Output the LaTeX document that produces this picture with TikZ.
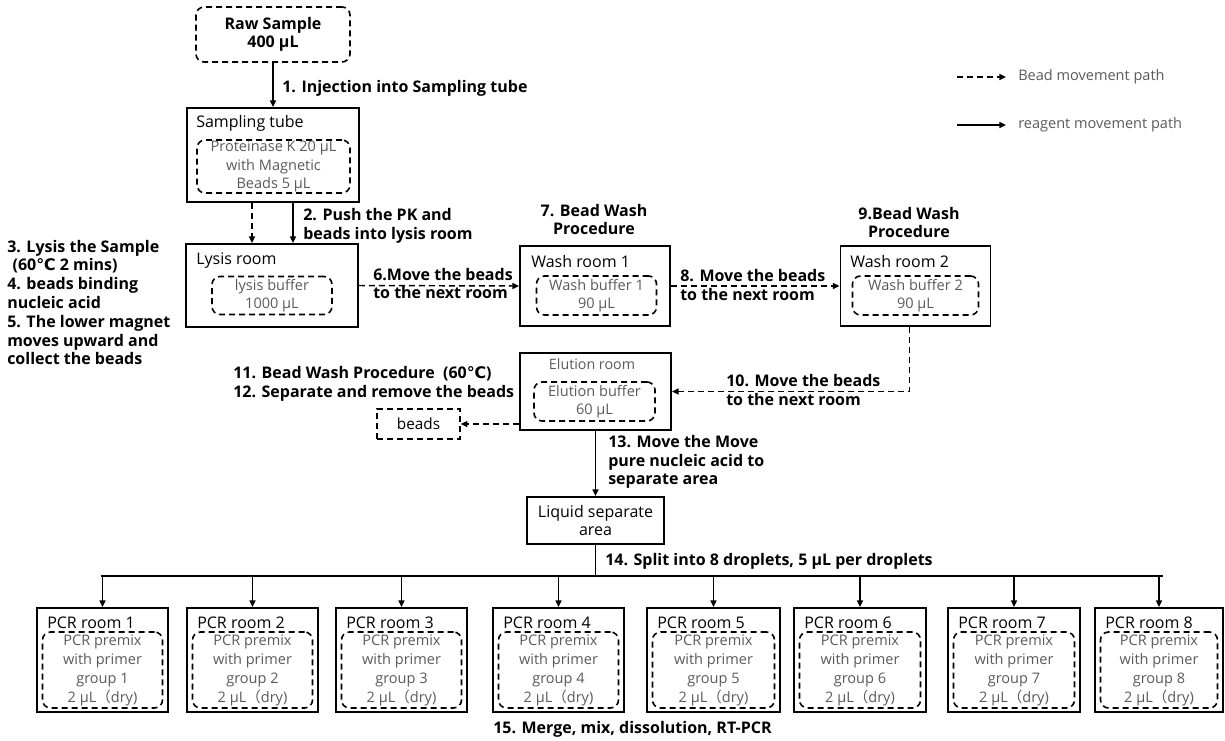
\documentclass[tikz,border=0pt]{standalone}
\usepackage{fontspec}
\setmainfont{Open Sans}
\newfontfamily\dejavu{DejaVu Sans}
\newfontfamily\cjk{Noto Sans CJK SC}
\usetikzlibrary{arrows.meta}
\definecolor{txtgray}{HTML}{5A5A5A}
\tikzset{
  sz/.style 2 args={minimum width=(#1)*0.75pt, minimum height=(#2)*0.75pt},
  room/.style={draw, line width=1.4pt, inner sep=0pt},
  inbox/.style={draw, line width=1.2pt, dash pattern=on 4.5pt off 3pt, rounded corners=6pt, inner sep=0pt, align=center, text=txtgray, font=\fontsize{10.9}{13.9}\selectfont},
  ttl/.style={anchor=west, inner sep=0pt, font=\fontsize{12}{14}\selectfont},
  lbl/.style={anchor=west, inner sep=0pt, align=left, font=\fontsize{12}{14.1}\selectfont\bfseries},
  clbl/.style={inner sep=0pt, align=center, font=\fontsize{12}{14.1}\selectfont\bfseries},
  legtxt/.style={anchor=west, inner sep=0pt, text=txtgray, font=\fontsize{10.9}{14}\selectfont},
  solidarr/.style={line width=1.1pt, -{Triangle[length=5pt,width=4.5pt]}},
  beadarr/.style={solidarr, dash pattern=on 4.5pt off 3pt},
}
\begin{document}
\begin{tikzpicture}[x=0.75pt,y=-0.75pt]
\useasboundingbox (0,0) rectangle (1225,740);

% Raw sample
\node[inbox, sz={154}{55}, text=black, font=\fontsize{12}{14}\selectfont\bfseries] (raw) at (273,34.5) {Raw Sample\\400 µL};

% Sampling tube
\node[room, sz={172}{94}] (samp) at (273,155) {};
\node[ttl] (sampt) at (196,123) {Sampling tube};
\node[inbox, sz={153}{53}] (sampin) at (273.5,166.5) {Proteinase K 20 µL\\with Magnetic\\Beads 5 µL};

% Lysis room
\node[room, sz={172}{83}] (lysis) at (272,285.5) {};
\node[ttl] (lysist) at (196,261) {Lysis room};
\node[inbox, sz={120}{38}] (lysisin) at (272,295.5) {lysis buffer\\1000 µL};

% Wash room 1
\node[room, sz={150}{80}] (w1) at (595,286) {};
\node[ttl] (w1t) at (531,261) {Wash room 1};
\node[inbox, sz={120}{39}] (w1in) at (596.5,295.5) {Wash buffer 1\\90 µL};

% Wash room 2
\node[room, sz={150}{80}] (w2) at (915.5,286) {};
\node[ttl] (w2t) at (850,261) {Wash room 2};
\node[inbox, sz={126}{39}] (w2in) at (915.5,295.5) {Wash buffer 2\\90 µL};

% Elution room
\node[room, sz={151}{77}] (elu) at (595.5,391.5) {};
\node[inner sep=0pt, text=txtgray, font=\fontsize{10.7}{14}\selectfont] (elut) at (592,364) {Elution room};
\node[inbox, sz={121}{39}] (eluin) at (594.5,401.5) {Elution buffer\\60 µL};

% beads
\node[draw, line width=1.2pt, dash pattern=on 4.5pt off 3pt, sz={83}{30}, inner sep=0pt, font=\fontsize{11.5}{14}\selectfont] (beads) at (418.5,424) {beads};

% Liquid separate area
\node[room, sz={137}{47}, align=center, font=\fontsize{12}{14}\selectfont] (liq) at (595.5,520.5) {Liquid separate\\area};

% PCR rooms
\foreach \i/\cx/\w in {1/102.5/131, 2/252.5/131, 3/401.5/131, 4/558.5/131, 5/713.5/133, 6/860/132, 7/1014/132, 8/1159/128} {
  \node[room, sz={\w}{104}] (p\i) at (\cx,660) {};
  \node[ttl] (p\i t) at ({\cx-\w/2+10},623) {PCR room \i};
  \node[inbox, sz={\w-11}{76}, font=\fontsize{10.9}{14.25}\selectfont] (p\i in) at (\cx,670) {PCR premix\\with primer\\group \i\\2 µL{\cjk （}dry)};
}

% Labels
\node[lbl] (l1) at (282,88) {1. Injection into Sampling tube};
\node[lbl] (l2) at (303,225.5) {2. Push the PK and\\beads into lysis room};
\node[lbl] (l3) at (7,302.5) {3. Lysis the Sample\\\hspace*{4pt}(60{\dejavu ℃} 2 mins)\\4. beads binding\\nucleic acid\\5. The lower magnet\\moves upward and\\collect the beads};
\node[lbl] (l6) at (373,283.5) {6.Move the beads\\to the next room};
\node[clbl] (l7) at (594,219.5) {7. Bead Wash\\Procedure};
\node[lbl] (l8) at (680,285) {8. Move the beads\\to the next room};
\node[clbl] (l9) at (909,222.5) {9.Bead Wash\\Procedure};
\node[lbl] (l10) at (726,390) {10. Move the beads\\to the next room};
\node[lbl] (l11) at (233,383.5) {11. Bead Wash Procedure\ \ (60{\dejavu ℃})\\12. Separate and remove the beads};
\node[lbl] (l13) at (608,462) {13. Move the Move\\pure nucleic acid to\\separate area};
\node[lbl] (l14) at (605,561) {14. Split into 8 droplets, 5 µL per droplets};
\node[lbl] (l15) at (493,729) {15. Merge, mix, dissolution, RT-PCR};

% Legend
\node[legtxt] (leg1) at (1018,77) {Bead movement path};
\node[legtxt] (leg2) at (1018,125) {reagent movement path};
\coordinate (leg1s) at (957,77);
\coordinate (leg2s) at (957,125);
\draw[beadarr] (leg1s) -- ([xshift=-9pt]leg1.west);
\draw[solidarr] (leg2s) -- ([xshift=-9pt]leg2.west);

% Connectors
\draw[solidarr] (raw.south) -- (samp.north);
\draw[beadarr] ([xshift=-15.75pt]samp.south) -- ([xshift=-15pt]lysis.north);
\draw[solidarr] ([xshift=15pt]samp.south) -- ([xshift=15.75pt]lysis.north);
\draw[beadarr] (lysis.east) -- (w1.west);
\draw[beadarr] (w1.east) -- (w2.west);
\draw[beadarr] ([xshift=-4.5pt]w2.south) |- (elu.east);
\draw[beadarr] (elu.west |- beads.east) -- (beads.east);
\draw[solidarr] (elu.south) -- (liq.north);
\coordinate (bus) at (595.5,576);
\draw[line width=1.1pt] (liq.south) -- (bus);
\draw[line width=1.1pt] ([xshift=-1.5pt]bus -| p1.north) -- ([xshift=3pt]bus -| p8.north);
\foreach \i in {1,...,8} {
  \draw[solidarr] (bus -| p\i.north) -- (p\i.north);
}
\end{tikzpicture}
\end{document}
